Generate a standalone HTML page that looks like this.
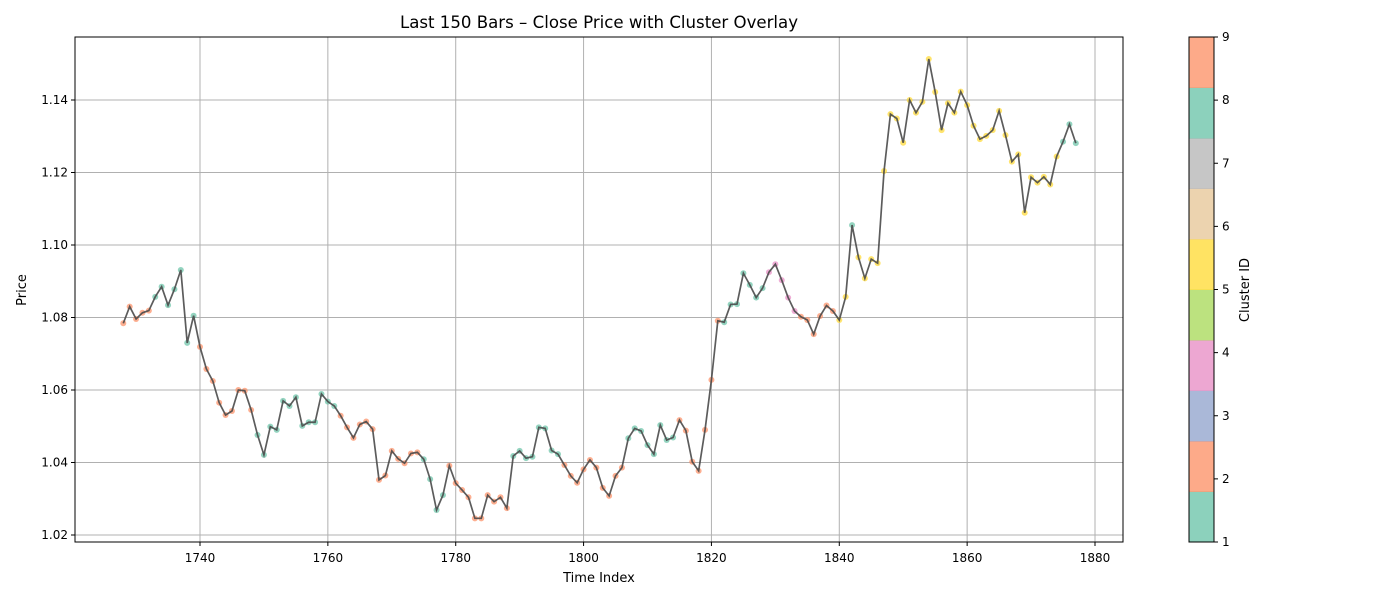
<!DOCTYPE html>
<html><head><meta charset="utf-8"><style>
body{margin:0;background:#fff;font-family:"Liberation Sans","DejaVu Sans",sans-serif}
svg text{font-family:"DejaVu Sans","Liberation Sans",sans-serif;fill:#000}
</style></head><body>
<svg id="chart" width="1400" height="600" xmlns="http://www.w3.org/2000/svg">
<rect width="1400" height="600" fill="#fff"/>
<text x="599" y="28" font-size="16.6" text-anchor="middle">Last 150 Bars – Close Price with Cluster Overlay</text>
<g id="grid"></g>
<g id="series"></g>
<rect x="75" y="37" width="1048" height="505" fill="none" stroke="#000" stroke-width="1"/>
<g id="xaxis"></g><g id="yaxis"></g>
<text x="599" y="582" font-size="13" text-anchor="middle">Time Index</text>
<text transform="translate(26,290) rotate(-90)" font-size="13" text-anchor="middle">Price</text>
<g id="colorbar"></g>
<text transform="translate(1249,290) rotate(-90)" font-size="13" text-anchor="middle">Cluster ID</text>
</svg>
<script>
const startIndex = 1728;
const prices = [1.0784,1.0830,1.0796,1.0813,1.0819,1.0857,1.0885,1.0834,1.0878,1.0931,1.0730,1.0805,1.0719,1.0658,1.0625,1.0565,1.0531,1.0542,1.0600,1.0598,1.0545,1.0476,1.0421,1.0499,1.0490,1.0570,1.0556,1.0580,1.0501,1.0511,1.0511,1.0589,1.0568,1.0556,1.0529,1.0497,1.0468,1.0505,1.0513,1.0492,1.0352,1.0364,1.0432,1.0410,1.0398,1.0425,1.0428,1.0409,1.0354,1.0269,1.0310,1.0391,1.0343,1.0324,1.0304,1.0246,1.0246,1.0310,1.0292,1.0304,1.0274,1.0418,1.0432,1.0412,1.0416,1.0497,1.0494,1.0433,1.0423,1.0393,1.0363,1.0344,1.0381,1.0407,1.0386,1.0330,1.0308,1.0363,1.0386,1.0467,1.0494,1.0487,1.0448,1.0423,1.0503,1.0462,1.0469,1.0517,1.0488,1.0402,1.0377,1.0490,1.0628,1.0791,1.0787,1.0836,1.0837,1.0922,1.0890,1.0855,1.0881,1.0925,1.0947,1.0903,1.0855,1.0818,1.0802,1.0793,1.0754,1.0804,1.0833,1.0818,1.0793,1.0857,1.1055,1.0966,1.0908,1.0961,1.0950,1.1204,1.1361,1.1349,1.1282,1.1400,1.1365,1.1395,1.1513,1.1422,1.1317,1.1391,1.1365,1.1423,1.1386,1.1329,1.1292,1.1301,1.1317,1.1370,1.1303,1.1230,1.1250,1.1089,1.1187,1.1172,1.1188,1.1167,1.1244,1.1285,1.1333,1.1281];
const clusters = [2,2,2,2,2,1,1,1,1,1,1,1,2,2,2,2,2,2,2,2,2,1,1,1,1,1,1,1,1,1,1,1,1,1,2,2,2,2,2,2,2,2,2,2,2,2,2,1,1,1,1,2,2,2,2,2,2,2,2,2,2,1,1,1,1,1,1,1,1,2,2,2,2,2,2,2,2,2,2,1,1,1,1,1,1,1,1,2,2,2,2,2,2,2,1,1,1,1,1,1,1,4,4,4,4,4,2,2,2,2,2,2,5,5,1,5,5,5,5,5,5,5,5,5,5,5,5,5,5,5,5,5,5,5,5,5,5,5,5,5,5,5,5,5,5,5,5,1,1,1];
const xTicks = [1740,1760,1780,1800,1820,1840,1860,1880];
const yTicks = [1.02,1.04,1.06,1.08,1.10,1.12,1.14];
const cbTicks = [1,2,3,4,5,6,7,8,9];
const cbColors = ['#66c2a5','#fc8d62','#8da0cb','#e78ac3','#a6d854','#ffd92f','#e5c494','#b3b3b3','#66c2a5','#fc8d62'];
const pointColors = {1:'#66c2a5',2:'#fc8d62',3:'#8da0cb',4:'#e78ac3',5:'#ffd92f',6:'#e5c494',7:'#b3b3b3',8:'#66c2a5',9:'#fc8d62'};

const NS='http://www.w3.org/2000/svg';
const X=v=>200+(v-1740)*(1095-200)/140;
const Y=v=>535-(v-1.02)*(435/0.12);
const CB=v=>542-(v-1)*(505/8);
function mk(t,a,p){const e=document.createElementNS(NS,t);for(const k in a)e.setAttribute(k,a[k]);p.appendChild(e);return e;}
const grid=document.getElementById('grid'),xa=document.getElementById('xaxis'),ya=document.getElementById('yaxis');
xTicks.forEach(t=>{const x=X(t);
 const g=mk('line',{x1:x,x2:x,y1:37,y2:542,stroke:'#b0b0b0','stroke-width':1},grid);
 
 
 mk('line',{x1:x,x2:x,y1:542,y2:546,stroke:'#000'},xa);
 const tx=mk('text',{x:x,y:562,'font-size':12,'text-anchor':'middle'},xa);tx.textContent=t;
 
 
});
yTicks.forEach(t=>{const y=Y(t);
 const g=mk('line',{x1:75,x2:1123,y1:y,y2:y,stroke:'#b0b0b0','stroke-width':1},grid);
 
 
 mk('line',{x1:71,x2:75,y1:y,y2:y,stroke:'#000'},ya);
 const tx=mk('text',{x:68,y:y+4,'font-size':12,'text-anchor':'end'},ya);tx.textContent=t.toFixed(2);
 
 
});
const s=document.getElementById('series');
prices.forEach((p,i)=>{
 const c=mk('circle',{cx:X(startIndex+i),cy:Y(p),r:3,fill:pointColors[clusters[i]],'fill-opacity':0.7},s);
 
 
});
const pts=prices.map((p,i)=>X(startIndex+i).toFixed(2)+','+Y(p).toFixed(2)).join(' ');
const line=mk('polyline',{points:pts,fill:'none',stroke:'#4a4a4a','stroke-width':1.7,'stroke-opacity':0.9},s);


const cb=document.getElementById('colorbar');
const segH=505/cbColors.length;
cbColors.forEach((col,i)=>{
 const r=mk('rect',{x:1189,y:542-(i+1)*segH,width:25,height:segH+0.5,fill:col,'fill-opacity':0.75},cb);
 
 
});
mk('rect',{x:1189,y:37,width:25,height:505,fill:'none',stroke:'#000'},cb);
cbTicks.forEach(t=>{const y=CB(t);
 mk('line',{x1:1214,x2:1218,y1:y,y2:y,stroke:'#000'},cb);
 const tx=mk('text',{x:1222,y:y+4,'font-size':12},cb);tx.textContent=t;
 
 
});
</script>
</body></html>
